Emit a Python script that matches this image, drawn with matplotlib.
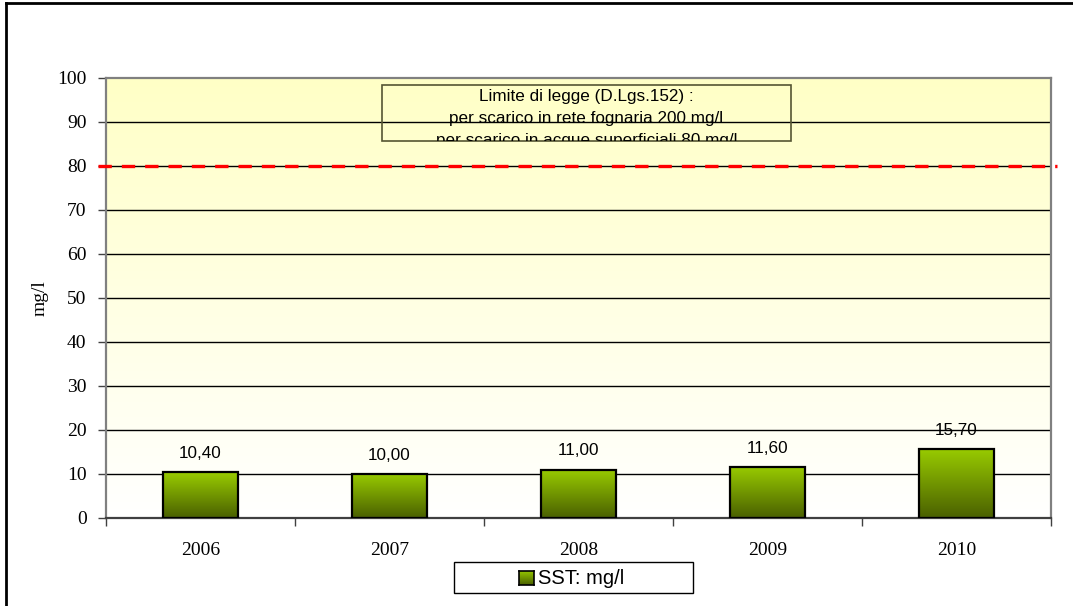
import numpy as np
import matplotlib
matplotlib.use("Agg")
import matplotlib.pyplot as plt
from matplotlib.patches import Rectangle
from matplotlib.colors import LinearSegmentedColormap
from matplotlib.transforms import Bbox, TransformedBbox

years = ["2006", "2007", "2008", "2009", "2010"]
sst_values = [10.40, 10.00, 11.00, 11.60, 15.70]
value_labels = ["10,40", "10,00", "11,00", "11,60", "15,70"]
limit_value = 80
yticks = [0, 10, 20, 30, 40, 50, 60, 70, 80, 90, 100]
box_lines = ["Limite di legge (D.Lgs.152) :",
             "per scarico in rete fognaria 200 mg/l",
             "per scarico in acque superficiali 80 mg/l"]
legend_label = "SST: mg/l"
ylabel = "mg/l"

W, H = 1073, 606
fig = plt.figure(figsize=(W / 100, H / 100), dpi=100)
fig.patch.set_facecolor("white")

L, R, T, B = 106, 1051, 78, 518
ax = fig.add_axes([L / W, 1 - B / H, (R - L) / W, (B - T) / H])
ax.set_xlim(-0.5, 4.5)
ax.set_ylim(0, 100)

# background gradient
bg_cmap = LinearSegmentedColormap.from_list("bg", ["#FFFFFF", "#FFFFC6"])
grad = np.linspace(0, 1, 256).reshape(-1, 1)
ax.imshow(grad, cmap=bg_cmap, aspect="auto", extent=[-0.5, 4.5, 0, 100],
          origin="lower", zorder=0, interpolation="bicubic")

# gridlines
for yv in yticks[1:-1]:
    ax.axhline(yv, color="black", lw=1.0, zorder=1)

# bars
x = np.arange(len(years))
bar_cmap = LinearSegmentedColormap.from_list("bar", ["#4A6000", "#99CC00"])
bars = ax.bar(x, sst_values, width=0.4, color="none", edgecolor="black",
              linewidth=1.6, zorder=3)
for b in bars:
    x0, y0 = b.get_x(), b.get_y()
    w, h = b.get_width(), b.get_height()
    ax.imshow(grad, cmap=bar_cmap, aspect="auto",
              extent=[x0, x0 + w, y0, y0 + h], origin="lower", zorder=2)
for xi, v, lab in zip(x, sst_values, value_labels):
    ax.annotate(lab, (xi, v), xytext=(0, 8), textcoords="offset points",
                ha="center", va="bottom", fontsize=12.3, family="Liberation Sans",
                zorder=5)

# limit line
line, = ax.plot([-0.542, 4.533], [limit_value, limit_value], color="#FF0000",
                lw=2.4, clip_on=False, zorder=4)
line.set_dashes([4, 3])

# text box
bx0, bx1, by0, by1 = 0.962, 3.123, 85.7, 98.4
rect = Rectangle((bx0, by0), bx1 - bx0, by1 - by0, facecolor="none",
                 edgecolor="#555533", lw=1.2, zorder=4)
ax.add_patch(rect)
clip_box = TransformedBbox(Bbox([[bx0, by0], [bx1, by1]]), ax.transData)
cx = (bx0 + bx1) / 2
for i, txt in enumerate(box_lines):
    t = ax.text(cx, 95.7 - 5.0 * i, txt, ha="center", va="center", fontsize=12.3,
                family="Liberation Sans", zorder=4, clip_on=True)
    t.set_clip_box(clip_box)

# axes styling
for s in ["top", "right", "left", "bottom"]:
    ax.spines[s].set_color("#808080")
    ax.spines[s].set_linewidth(1.6)
ax.spines["bottom"].set_color("#404040")
ax.set_yticks(yticks)
ax.set_yticklabels([str(v) for v in yticks], family="Liberation Serif", fontsize=14)
ax.tick_params(axis="y", length=6, width=1, color="#404040", pad=8)
ax.set_xticks(np.arange(-0.5, 4.6, 1.0), minor=False)
ax.set_xticklabels([])
ax.tick_params(axis="x", which="major", length=6, width=1, color="#404040")
ax.set_xticks(x, minor=True)
ax.set_xticklabels(years, minor=True, family="Liberation Serif", fontsize=14)
ax.tick_params(axis="x", which="minor", length=0, pad=17)
ax.set_ylabel(ylabel, family="Liberation Serif", fontsize=14, labelpad=6)

# legend (manual)
lx0, lx1, ly0, ly1 = 454, 693, 562, 593
fig.patches.append(Rectangle((lx0 / W, 1 - ly1 / H), (lx1 - lx0) / W, (ly1 - ly0) / H,
                             transform=fig.transFigure, facecolor="white",
                             edgecolor="black", lw=1.0, zorder=1))
lax = fig.add_axes([519 / W, 1 - 585 / H, 15 / W, 14 / H])
lax.set_zorder(5)
lax.imshow(grad, cmap=bar_cmap, aspect="auto", extent=[0, 1, 0, 1], origin="lower")
lax.set_xticks([]); lax.set_yticks([])
for s in lax.spines.values():
    s.set_color("black"); s.set_linewidth(1.2)
fig.text(538 / W, 1 - 578 / H, legend_label, ha="left", va="center", fontsize=14.5,
         family="Liberation Sans", zorder=6)

# outer frame
fig.add_artist(plt.Line2D([6 / W, 6 / W], [0, 1 - 3 / H], transform=fig.transFigure,
                          color="black", lw=2))
fig.add_artist(plt.Line2D([6 / W, 1], [1 - 3 / H, 1 - 3 / H], transform=fig.transFigure,
                          color="black", lw=2))

fig.savefig("out.png", dpi=100)
